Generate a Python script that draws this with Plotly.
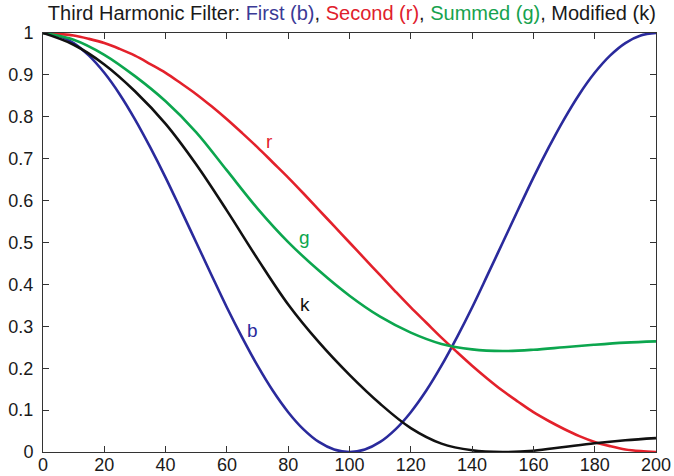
import plotly.graph_objects as go

# ---- data ----
x_fine = [0, 5, 10, 15, 20, 25, 30, 35, 40, 45, 50, 55, 60, 65, 70, 75, 80, 85, 90, 95, 100,
          105, 110, 115, 120, 125, 130, 135, 140, 145, 150, 155, 160, 165, 170, 175, 180,
          185, 190, 195, 200]

first_b = [1.000, 0.994, 0.976, 0.946, 0.905, 0.854, 0.794, 0.727, 0.655, 0.578, 0.500,
           0.422, 0.345, 0.273, 0.206, 0.146, 0.095, 0.054, 0.024, 0.006, 0.000,
           0.006, 0.024, 0.054, 0.095, 0.146, 0.206, 0.273, 0.345, 0.422, 0.500,
           0.578, 0.655, 0.727, 0.794, 0.854, 0.905, 0.946, 0.976, 0.994, 1.000]

second_r = [1.000, 0.998, 0.994, 0.986, 0.976, 0.962, 0.946, 0.926, 0.905, 0.880, 0.854,
            0.825, 0.794, 0.761, 0.727, 0.691, 0.655, 0.617, 0.578, 0.539, 0.500,
            0.461, 0.422, 0.383, 0.345, 0.309, 0.273, 0.239, 0.206, 0.175, 0.146,
            0.120, 0.095, 0.074, 0.055, 0.038, 0.024, 0.014, 0.006, 0.002, 0.000]

x_coarse = [0, 10, 20, 30, 40, 50, 60, 70, 80, 90, 100,
            110, 120, 130, 140, 150, 160, 170, 180, 190, 200]

summed_g = [1.000, 0.984, 0.948, 0.897, 0.837, 0.763, 0.672, 0.581, 0.501, 0.433, 0.373,
            0.323, 0.285, 0.258, 0.245, 0.241, 0.244, 0.250, 0.256, 0.261, 0.264]

modified_k = [1.000, 0.972, 0.925, 0.861, 0.783, 0.686, 0.576, 0.461, 0.352, 0.262, 0.184,
              0.115, 0.057, 0.020, 0.004, 0.000, 0.003, 0.012, 0.021, 0.028, 0.033]

x_ticks = [0, 20, 40, 60, 80, 100, 120, 140, 160, 180, 200]
y_ticks = [0, 0.1, 0.2, 0.3, 0.4, 0.5, 0.6, 0.7, 0.8, 0.9, 1]
y_tick_text = ["0", "0.1", "0.2", "0.3", "0.4", "0.5", "0.6", "0.7", "0.8", "0.9", "1"]

label_text = ["r", "g", "k", "b"]
label_x = [73.8, 85.2, 85.5, 68.4]
label_y = [0.742, 0.513, 0.353, 0.289]

# ---- styling ----
FONT = "Liberation Sans, Arial, sans-serif"
C_BLUE = "#2a2a9c"
C_RED = "#e3212b"
C_GREEN = "#0ca64e"
C_BLACK = "#111111"
label_colors = [C_RED, C_GREEN, C_BLACK, C_BLUE]

fig = go.Figure()
series = [(x_fine, first_b, C_BLUE), (x_fine, second_r, C_RED),
          (x_coarse, summed_g, C_GREEN), (x_coarse, modified_k, C_BLACK)]
for xs, ys, col in series:
    fig.add_trace(go.Scatter(x=xs, y=ys, mode="lines",
                             line=dict(color=col, width=2.6, shape="spline", smoothing=1.0),
                             showlegend=False, hoverinfo="skip"))

for t, lx, ly, c in zip(label_text, label_x, label_y, label_colors):
    fig.add_annotation(x=lx, y=ly, text=t, showarrow=False,
                       font=dict(family=FONT, size=19, color=c),
                       xanchor="center", yanchor="middle")

title = ("Third Harmonic Filter: "
         "<span style='color:#3a3a96'>First (b)</span>, "
         "<span style='color:#e0202c'>Second (r)</span>, "
         "<span style='color:#16a24e'>Summed (g)</span>, "
         "Modified (k)")

axis_common = dict(showgrid=False, zeroline=False, showline=True, linecolor="#333",
                   linewidth=1, mirror="ticks", ticks="inside", ticklen=6,
                   tickcolor="#333", automargin=False,
                   tickfont=dict(family=FONT, size=18, color="#1a1a1a"))

fig.update_layout(
    width=674, height=476,
    margin=dict(l=43, r=18, t=33, b=24),
    paper_bgcolor="white", plot_bgcolor="white",
    font=dict(family=FONT, size=18, color="#1a1a1a"),
    title=dict(text=title, x=0.522, xanchor="center", y=0.972, yanchor="middle",
               font=dict(family=FONT, size=20, color="#1a1a1a"), automargin=False),
    xaxis=dict(range=[0, 200], tickvals=x_ticks, ticktext=[str(v) for v in x_ticks],
               ticklabelstandoff=-4, **axis_common),
    yaxis=dict(range=[0, 1], tickvals=y_ticks, ticktext=y_tick_text,
               ticklabelstandoff=5, **axis_common),
)

fig.write_html("out.html", config={"displayModeBar": False},
               post_script="document.body.style.margin='0';")
